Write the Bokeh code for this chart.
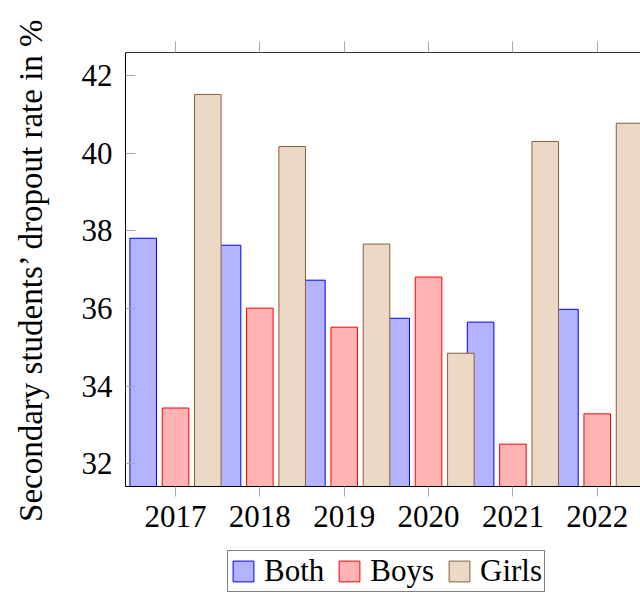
from bokeh.plotting import figure
from bokeh.layouts import column
from bokeh.models import (ColumnDataSource, Range1d, FixedTicker, LinearAxis,
                          Legend, LegendItem)
from bokeh.transform import dodge
from bokeh.embed import file_html
from bokeh.resources import INLINE

# ---- data ----
years = [2017, 2018, 2019, 2020, 2021, 2022]
year_labels = ["2017", "2018", "2019", "2020", "2021", "2022"]
both = [37.81, 37.63, 36.73, 35.75, 35.65, 35.98]
boys = [33.44, 36.01, 35.52, 36.81, 32.51, 33.29]
girls = [41.51, 40.17, 37.66, 34.85, 40.30, 40.77]
y_ticks = [32, 34, 36, 38, 40, 42]
series_names = ["Both", "Boys", "Girls"]
y_label = "Secondary students\u2019 dropout rate in %"

FONT = "Liberation Serif"
fills = ["#B3B3FF", "#FFB3B3", "#EBD9C6"]
lines = ["#0000FF", "#FF0000", "#8A5F37"]

src = ColumnDataSource(dict(x=years, both=both, boys=boys, girls=girls))

p = figure(width=640, height=545, output_backend="svg", toolbar_location=None,
           x_range=Range1d(2016.407, 2022.513), y_range=Range1d(31.42, 42.59),
           x_axis_location="below", y_axis_location="left")
p.min_border_left = 125
p.min_border_right = 0
p.min_border_top = 52
p.min_border_bottom = 59
p.outline_line_color = None
p.xgrid.grid_line_color = None
p.ygrid.grid_line_color = None
p.background_fill_color = "white"
p.border_fill_color = "white"

off = 0.383
bw = 0.315
p.vbar(x=dodge("x", -off, range=p.x_range), top="both", bottom=31.0, width=bw,
       source=src, fill_color=fills[0], line_color=lines[0], line_width=1)
p.vbar(x=dodge("x", 0.0, range=p.x_range), top="boys", bottom=31.0, width=bw,
       source=src, fill_color=fills[1], line_color=lines[1], line_width=1)
p.vbar(x=dodge("x", off, range=p.x_range), top="girls", bottom=31.0, width=bw,
       source=src, fill_color=fills[2], line_color=lines[2], line_width=1)

# axes
xa = p.xaxis[0]
xa.ticker = FixedTicker(ticks=years)
xa.major_label_overrides = {y: l for y, l in zip(years, year_labels)}
xa.minor_tick_line_color = None
xa.major_tick_in = 0
xa.major_tick_out = 10
xa.major_tick_line_color = "#A8A8A8"
xa.axis_line_color = "black"
xa.major_label_text_font = FONT
xa.major_label_text_font_size = "31px"
xa.major_label_text_color = "black"
xa.major_label_standoff = 9

ya = p.yaxis[0]
ya.ticker = FixedTicker(ticks=y_ticks)
ya.minor_tick_line_color = None
ya.major_tick_in = 10
ya.major_tick_out = 0
ya.major_tick_line_color = "#A8A8A8"
ya.axis_line_color = "black"
ya.major_label_text_font = FONT
ya.major_label_text_font_size = "31px"
ya.major_label_text_color = "black"
ya.major_label_standoff = 13
ya.axis_label = y_label
ya.axis_label_text_font = FONT
ya.axis_label_text_font_size = "33px"
ya.axis_label_text_font_style = "normal"
ya.axis_label_text_color = "black"
ya.axis_label_standoff = 30

top = LinearAxis(ticker=FixedTicker(ticks=years))
top.minor_tick_line_color = None
top.major_tick_in = 0
top.major_tick_out = 11
top.major_tick_line_color = "#A8A8A8"
top.axis_line_color = "#333333"
top.major_label_text_font_size = "0px"
top.major_label_text_alpha = 0
p.add_layout(top, "above")

# ---- legend strip (separate figure so it is not clipped) ----
lg = figure(width=640, height=51, output_backend="svg", toolbar_location=None,
            x_range=Range1d(0, 1), y_range=Range1d(0, 1),
            x_axis_type=None, y_axis_type=None)
lg.min_border_left = 0
lg.min_border_right = 0
lg.min_border_top = 0
lg.min_border_bottom = 0
lg.outline_line_color = None
lg.xgrid.grid_line_color = None
lg.ygrid.grid_line_color = None
lg.border_fill_color = "white"
lg.background_fill_color = "white"
items = []
for name, fc, lc in zip(series_names, fills, lines):
    # legend swatch only: the bar itself lies outside the visible range
    r = lg.vbar(x=[5.0], top=[5.0], bottom=[4.0], width=0.1,
                fill_color=fc, line_color=lc, line_width=1)
    items.append(LegendItem(label=name, renderers=[r]))

legend = Legend(items=items, orientation="horizontal", location=(102, 4),
                label_text_font=FONT, label_text_font_size="31px",
                label_text_color="black", label_text_line_height=0.9,
                glyph_width=26, glyph_height=26, label_standoff=8, spacing=12,
                padding=2, margin=0,
                border_line_color="black", border_line_width=1,
                background_fill_color="white", background_fill_alpha=1)
lg.add_layout(legend, "center")

layout = column(p, lg, spacing=0)
open("out.html", "w").write(file_html(layout, INLINE))
